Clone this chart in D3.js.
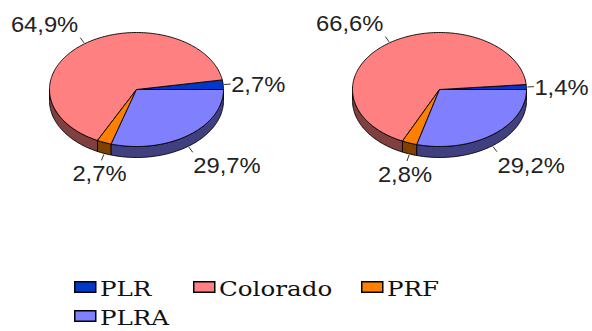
<!DOCTYPE html>
<html>
<head>
<meta charset="utf-8">
<script src="https://cdn.jsdelivr.net/npm/d3@7"></script>
<style>
  body { margin: 0; background: #fff; }
  svg { display: block; }
</style>
</head>
<body>
<svg id="chart" width="592" height="331"></svg>
<script>
// Party shares, two elections (percent)
const categories = ["PLR", "Colorado", "PRF", "PLRA"];
const valuesLeft = [2.7, 64.9, 2.7, 29.7];
const valuesRight = [1.4, 66.6, 2.8, 29.2];
const topColors = ["#0038c8", "#ff8080", "#ff8000", "#8080ff"];
const sideColors = ["#001c64", "#804040", "#804000", "#404080"];

// Layout
const W = 592, H = 331;
const pieCentersX = [136.5, 439.5];
const pieCY = 89.5, RX = 87, RY = 57, DEPTH = 11;
const legendRows = [[0, 1, 2], [3]];
const legendX = [74, 193, 361];
const legendY = [281, 310];

const svg = d3.select("#chart");
const pct = v => d3.format(".1f")(v).replace(".", ",") + "%";

// Slices run counter-clockwise starting at 3 o'clock
const pie = d3.pie().sort(null).value(d => d)
  .startAngle(Math.PI / 2).endAngle(Math.PI / 2 - 2 * Math.PI);

const line = d3.line();

function drawPie(values, cx) {
  const g = svg.append("g");
  const pt = (a, dz = 0) => [cx + RX * Math.sin(a), pieCY - RY * Math.cos(a) + dz];
  const arcPts = (from, to, dz) => {
    const n = Math.max(2, Math.ceil(Math.abs(to - from) / 0.02) + 1);
    return d3.range(n).map(i => pt(from + (to - from) * i / (n - 1), dz));
  };
  const slices = pie(values).map((d, i) => ({
    i, value: d.value,
    a0: Math.min(d.startAngle, d.endAngle),
    a1: Math.max(d.startAngle, d.endAngle)
  }));

  // side walls: visible front half of the disc
  const frontLo = -1.5 * Math.PI, frontHi = -0.5 * Math.PI;
  slices.forEach(s => {
    const lo = Math.max(s.a0, frontLo), hi = Math.min(s.a1, frontHi);
    if (hi <= lo) return;
    const pts = arcPts(lo, hi, 0).concat(arcPts(hi, lo, DEPTH));
    g.append("path")
      .attr("d", line(pts) + "Z")
      .attr("fill", sideColors[s.i])
      .attr("stroke", "#000")
      .attr("stroke-width", 0.9)
      .attr("stroke-linejoin", "round");
  });

  // top faces
  slices.forEach(s => {
    const pts = [[cx, pieCY]].concat(arcPts(s.a0, s.a1, 0));
    g.append("path")
      .attr("d", line(pts) + "Z")
      .attr("fill", topColors[s.i])
      .attr("stroke", "#000")
      .attr("stroke-width", 0.9)
      .attr("stroke-linejoin", "round");
  });

  // value labels with short leader lines
  slices.forEach(s => {
    const mid = (s.a0 + s.a1) / 2;
    const ux = Math.sin(mid), uy = -Math.cos(mid);
    const front = uy > 0;
    const [ax, ay] = pt(mid, front ? DEPTH : 0);
    const p1 = [ax + ux * 1, ay + uy * 1];
    const p2 = [ax + ux * 7.5, ay + uy * 7.5];
    g.append("path")
      .attr("d", line([p1, p2]))
      .attr("stroke", "#000")
      .attr("stroke-width", 0.8)
      .attr("fill", "none");
    const anchor = ux > 0.5 ? "start" : ux < -0.5 ? "end" : "middle";
    const tx = p2[0] + (anchor === "start" ? 0.5 : -2);
    const ty = uy > 0.5 ? p2[1] + 21 : uy < -0.5 ? p2[1] - 6 : p2[1] + 8;
    g.append("text")
      .attr("transform", `translate(${tx},${ty}) scale(1.08,1)`)
      .attr("text-anchor", anchor)
      .attr("font-family", "Liberation Sans, Arial, sans-serif")
      .attr("font-size", 22)
      .attr("fill", "#222")
      .text(pct(s.value));
  });
}

drawPie(valuesLeft, pieCentersX[0]);
drawPie(valuesRight, pieCentersX[1]);

// legend
const lg = svg.append("g");
legendRows.forEach((row, r) => {
  row.forEach((ci, c) => {
    const x = legendX[c], y = legendY[r];
    lg.append("rect")
      .attr("x", x + 0.75).attr("y", y + 0.75)
      .attr("width", 21).attr("height", 10.5)
      .attr("fill", topColors[ci])
      .attr("stroke", "#000").attr("stroke-width", 1.5);
    lg.append("text")
      .attr("transform", `translate(${x + 26},${y + 15}) scale(1.2,1)`)
      .attr("font-family", "DejaVu Serif, serif")
      .attr("font-size", 20.5)
      .attr("fill", "#111")
      .text(categories[ci]);
  });
});
</script>
</body>
</html>
